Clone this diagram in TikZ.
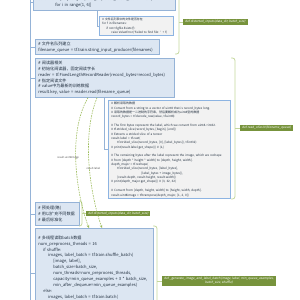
\documentclass[tikz,border=0pt]{standalone}
\usepackage{fontspec}
\newfontfamily\cjk{Noto Sans CJK SC}
\newfontfamily\deffont[FakeSlant=0.2]{Noto Sans CJK SC}
\usetikzlibrary{arrows.meta,calc}

\definecolor{boxfill}{HTML}{DCE6F2}
\definecolor{boxline}{HTML}{95B3D7}
\definecolor{notefill}{HTML}{F2F2F2}
\definecolor{noteline}{HTML}{8DB4E2}
\definecolor{defgreen}{HTML}{77933C}
\definecolor{bracketgreen}{HTML}{C3D69B}
\definecolor{flowgreen}{HTML}{9BBB59}
\definecolor{codetext}{HTML}{1F2D3D}

\begin{document}
\begin{tikzpicture}[x=1pt,y=-1pt,
  codebox/.style={draw=boxline,fill=boxfill,line width=0.7pt,inner xsep=3pt,inner ysep=1.5pt,
    align=left,anchor=north west,text=codetext,font=\cjk\fontsize{4.1}{5.9}\selectfont},
  notebox/.style={draw=noteline,fill=notefill,line width=0.9pt,inner xsep=3pt,inner ysep=1pt,
    align=left,anchor=north west,text=codetext,font=\cjk\fontsize{2.9}{4.3}\selectfont},
  deflabel/.style={fill=defgreen,text=white,inner xsep=2pt,inner ysep=1pt,align=center,
    anchor=west,font=\deffont\fontsize{3.1}{4}\selectfont},
  trunk/.style={draw=boxline,line width=0.7pt},
  summary/.style={draw=bracketgreen,line width=0.8pt,rounded corners=2.5pt},
  dataflow/.style={draw=flowgreen,line width=0.6pt,dash pattern=on 1.6pt off 1pt,
    -{Stealth[length=3pt,width=2.6pt]}},
  flowtag/.style={font=\cjk\fontsize{2.6}{3}\selectfont,text=black!70,inner sep=0.5pt}]
\clip (0,0) rectangle (300,300);
\useasboundingbox (0,0) rectangle (300,300);

% left trunk
\coordinate (trunktop) at (30,-5);
\draw[trunk] (trunktop) -- (30,305);

% file names
\node[codebox,anchor=south west,text width=136,minimum height=16] (filesbox) at (33,11)
  {filenames = [os.path.join(data\_dir, 'data\_batch\_\%d.bin' \% i)\\
   \hspace*{19pt}for i in range(1, 6)]};
\node[notebox,text width=68,minimum height=19] (checkbox) at (99,16)
  {\# 文件名列表中的文件是否存在\\
   for f in filenames:\\
   \hspace*{4pt}if not tf.gfile.Exists(f):\\
   \hspace*{9pt}raise ValueError('Failed to find file: ' + f)};
\node[codebox,text width=118,minimum height=15] (queuebox) at (35,39)
  {\# 文件名队列建立\\
   filename\_queue = tf.train.string\_input\_producer(filenames)};

% reader
\node[codebox,text width=133,minimum height=39] (readerbox) at (35,58)
  {\# 阅读器相关\\
   \# 初始化阅读器，固定阅读字长\\
   reader = tf.FixedLengthRecordReader(record\_bytes=record\_bytes)\\
   \# 指定阅读文件\\
   \# value中为最新的训练数据\\
   result.key, value = reader.read(filename\_queue)};
\node[notebox,text width=116,minimum height=98,font=\cjk\fontsize{3.0}{4.35}\selectfont] (parsebox) at (108,100)
  {\# 解析读取的数据\\
   \# Convert from a string to a vector of uint8 that is record\_bytes long.\\
   \# 读取的数据是一二进制的字符串，然后要解析成为uint8型的数据\\
   record\_bytes = tf.decode\_raw(value, tf.uint8)\\
   ~\\
   \# The first bytes represent the label, which we convert from uint8->int32.\\
   \# tf.strided\_slice(record\_bytes, [begin], [end])\\
   \# Extracts a strided slice of a tensor\\
   result.label = tf.cast(\\
   \hspace*{6pt}tf.strided\_slice(record\_bytes, [0], [label\_bytes]), tf.int32)\\
   \# print(result.label.get\_shape()) \# (1,)\\
   ~\\
   \# The remaining bytes after the label represent the image, which we reshape\\
   \# from [depth * height * width] to [depth, height, width].\\
   depth\_major = tf.reshape(\\
   \hspace*{6pt}tf.strided\_slice(record\_bytes, [label\_bytes],\\
   \hspace*{30pt}[label\_bytes + image\_bytes]),\\
   \hspace*{6pt}[result.depth, result.height, result.width])\\
   \# print(depth\_major.get\_shape()) \# (3, 32, 32)\\
   ~\\
   \# Convert from [depth, height, width] to [height, width, depth].\\
   result.uint8image = tf.transpose(depth\_major, [1, 2, 0])};

% preprocessing and batching
\node[codebox,text width=38,minimum height=23] (prepbox) at (35,202)
  {\# 预处理(略)\\
   \# 用以扩充不同数据\\
   \# 最后标准化};
\node[codebox,text width=112,minimum height=90] (batchbox) at (35,228)
  {\# 多线程读取batch数据\\
   num\_preprocess\_threads = 16\\
   \hspace*{5pt}if shuffle:\\
   \hspace*{10pt}images, label\_batch = tf.train.shuffle\_batch(\\
   \hspace*{15pt}[image, label],\\
   \hspace*{15pt}batch\_size=batch\_size,\\
   \hspace*{15pt}num\_threads=num\_preprocess\_threads,\\
   \hspace*{15pt}capacity=min\_queue\_examples + 3 * batch\_size,\\
   \hspace*{15pt}min\_after\_dequeue=min\_queue\_examples)\\
   \hspace*{5pt}else:\\
   \hspace*{10pt}images, label\_batch = tf.train.batch(\\
   \hspace*{15pt}[image, label],\\
   \hspace*{15pt}batch\_size=batch\_size,};

% tree stubs
\foreach \b in {filesbox,queuebox,readerbox,prepbox,batchbox}
  \draw[trunk] (\b.west -| trunktop) -- (\b.west);
\draw[trunk] ([xshift=64pt]filesbox.south west) |- (checkbox.west);
\draw[trunk] ([xshift=69pt]readerbox.south west) |- (parsebox.west);

% function summaries
\node[deflabel] (deflabA) at (183,22) {def distorted\_inputs(data\_dir, batch\_size)};
\node[deflabel] (deflabB) at (240,128) {def read\_cifar10(filename\_queue)};
\node[deflabel] (deflabC) at (86,213.5) {def distorted\_inputs(data\_dir, batch\_size)};
\node[deflabel] (deflabD) at (162,281) {def \_generate\_image\_and\_label\_batch(image, label, min\_queue\_examples,\\ batch\_size, shuffle)};
\coordinate (sumA) at (179,22);
\coordinate (sumB) at (235,128);
\coordinate (sumC) at (82,213.5);
\coordinate (sumD) at (157,281);
\draw[summary] (175,-5) -| (179,54) -- (175,54);
\draw[summary] (readerbox.north east -| 231,0) -| (235,199) -- (231,199);
\draw[summary] (79,201) -| (82,226) -- (79,226);
\draw[summary] (153,226) -| (157,320) -- (153,320);
\foreach \s/\l in {sumA/deflabA,sumB/deflabB,sumC/deflabC,sumD/deflabD}
  \draw[summary] (\s) -- (\l.west);

% data passed to batching
\draw[dataflow] ([xshift=53pt]readerbox.south west) .. controls (66,135) and (78,200) .. ([xshift=54pt]batchbox.north west)
  node[flowtag,pos=0.44,anchor=east,xshift=4pt] {result.uint8image};
\draw[dataflow] ([xshift=62pt]readerbox.south west) .. controls (80,140) and (92,200) .. ([xshift=67pt]batchbox.north west)
  node[flowtag,pos=0.5,xshift=4pt] {result.label};
\end{tikzpicture}
\end{document}
